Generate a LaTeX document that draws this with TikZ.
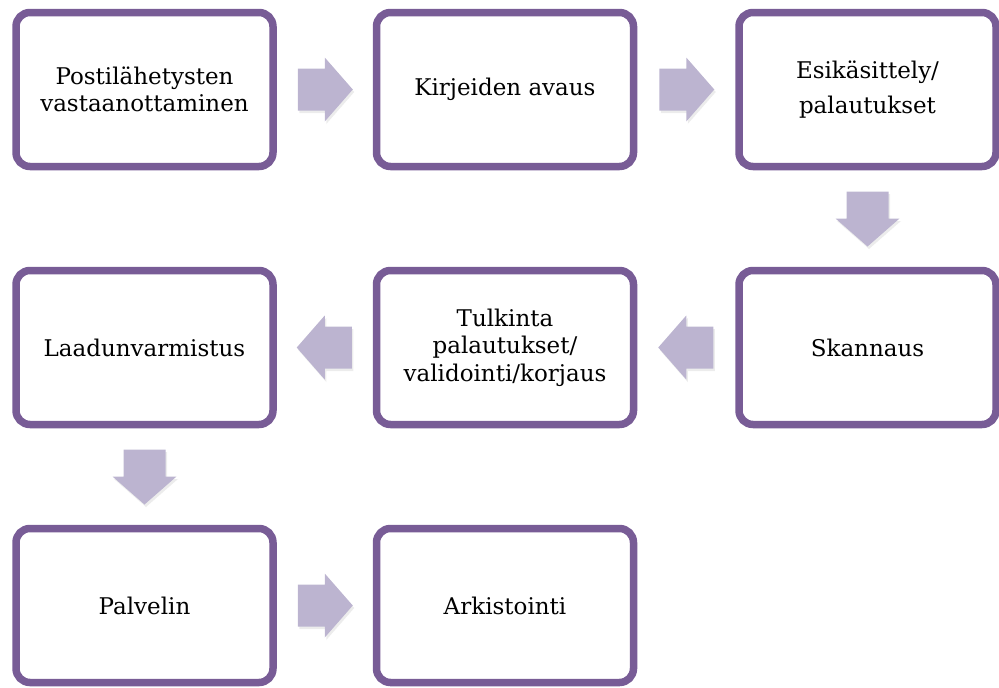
\documentclass[tikz,border=0pt]{standalone}
\usepackage{fontspec}
\setmainfont{DejaVu Serif}
\usetikzlibrary{shadows,calc}
\definecolor{boxborder}{RGB}{120,92,150}
\definecolor{arrowfill}{RGB}{188,180,208}
\begin{document}
\begin{tikzpicture}[x=1pt,y=1pt,
  stepbox/.style={draw=boxborder, line width=7.5pt, rounded corners=14pt, fill=white,
    minimum width=257pt, minimum height=154pt, align=center, inner sep=0pt,
    font=\fontsize{23}{27.5}\selectfont,
    drop shadow={shadow xshift=2pt, shadow yshift=-3pt, opacity=0.3, fill=black!60}},
  pics/flowarrow/.style={code={
    \path[fill=arrowfill, drop shadow={shadow xshift=1.5pt, shadow yshift=-2.5pt, opacity=0.15, fill=black!50}]
      (-27,-21) -- (0,-21) -- (0,-32) -- (28,0) -- (0,32) -- (0,21) -- (-27,21) -- cycle;
  }}
]
\useasboundingbox (0,0) rectangle (999,-688);

\node[stepbox] (n1) at (144.5,-89.5) {Postilähetysten\\vastaanottaminen};
\node[stepbox] (n2) at (505,-89.5) {Kirjeiden avaus};
\node[stepbox] (n3) at (867.5,-89.5) {Esikäsittely/\\[8pt]palautukset};
\node[stepbox] (n4) at (867.5,-347.5) {Skannaus};
\node[stepbox] (n5) at (505,-347.5) {Tulkinta\\palautukset/\\validointi/korjaus};
\node[stepbox] (n6) at (144.5,-347.5) {Laadunvarmistus};
\node[stepbox] (n7) at (144.5,-605.5) {Palvelin};
\node[stepbox] (n8) at (505,-605.5) {Arkistointi};

\pic at ($(n1.east)!0.5!(n2.west)$) {flowarrow};
\pic at ($(n2.east)!0.5!(n3.west)$) {flowarrow};
\pic[rotate=-90] at ($(n3.south)!0.5!(n4.north)$) {flowarrow};
\pic[rotate=180] at ($(n4.west)!0.5!(n5.east)$) {flowarrow};
\pic[rotate=180] at ($(n5.west)!0.5!(n6.east)$) {flowarrow};
\pic[rotate=-90] at ($(n6.south)!0.5!(n7.north)$) {flowarrow};
\pic at ($(n7.east)!0.5!(n8.west)$) {flowarrow};
\end{tikzpicture}
\end{document}
